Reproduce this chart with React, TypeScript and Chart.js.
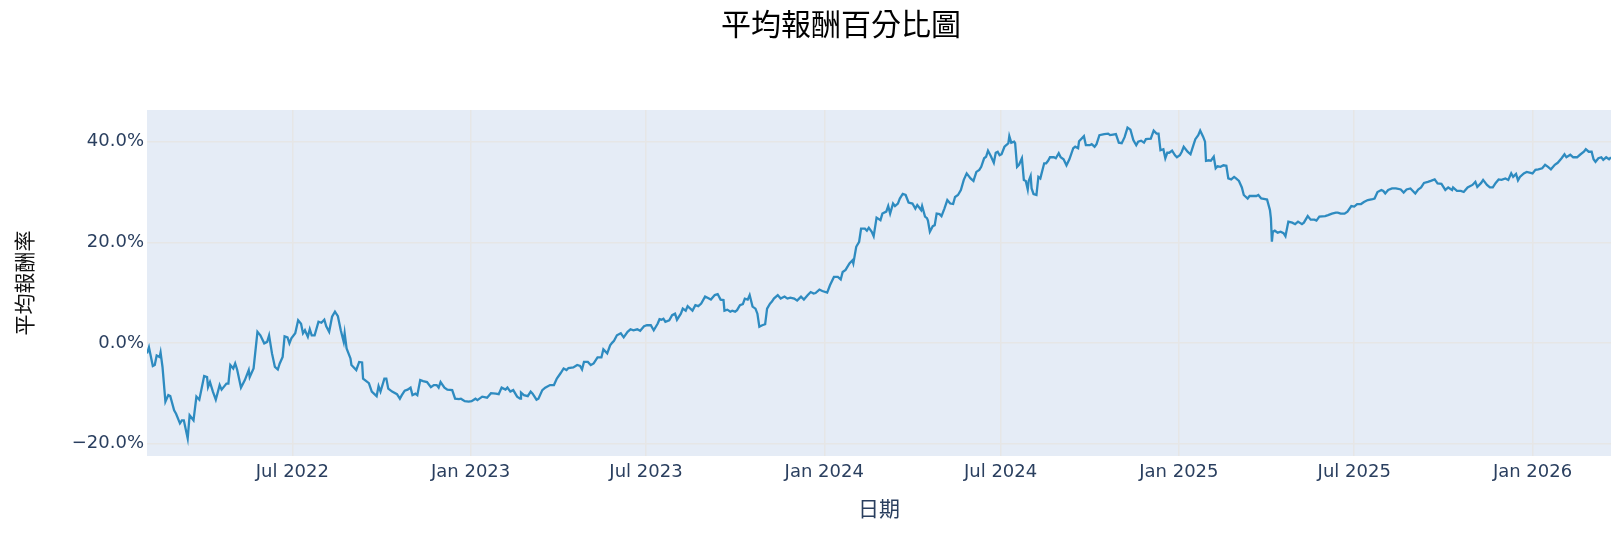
import React, { useEffect, useRef } from 'react';
import { Chart, registerables } from 'chart.js';

Chart.register(...registerables);

const chartTitle = '平均報酬百分比圖';
const xTitle = '日期';
const yTitle = '平均報酬率';

// average return (%), split by year
const dates2022 = [
  '2022-02-01', '2022-02-03', '2022-02-07', '2022-02-09', '2022-02-11', '2022-02-14', '2022-02-15', '2022-02-17',
  '2022-02-20', '2022-02-23', '2022-02-25', '2022-03-01', '2022-03-03', '2022-03-07', '2022-03-09', '2022-03-11',
  '2022-03-15', '2022-03-17', '2022-03-21', '2022-03-24', '2022-03-27', '2022-04-01', '2022-04-04', '2022-04-05',
  '2022-04-07', '2022-04-10', '2022-04-13', '2022-04-17', '2022-04-19', '2022-04-24', '2022-04-26', '2022-04-28',
  '2022-05-01', '2022-05-03', '2022-05-05', '2022-05-09', '2022-05-13', '2022-05-17', '2022-05-18', '2022-05-22',
  '2022-05-26', '2022-05-29', '2022-06-02', '2022-06-05', '2022-06-07', '2022-06-10', '2022-06-13', '2022-06-16',
  '2022-06-18', '2022-06-21', '2022-06-23', '2022-06-26', '2022-06-28', '2022-06-30', '2022-07-04', '2022-07-07',
  '2022-07-10', '2022-07-12', '2022-07-14', '2022-07-17', '2022-07-19', '2022-07-21', '2022-07-24', '2022-07-28',
  '2022-07-31', '2022-08-03', '2022-08-05', '2022-08-08', '2022-08-11', '2022-08-14', '2022-08-17', '2022-08-20',
  '2022-08-23', '2022-08-24', '2022-08-26', '2022-08-30', '2022-08-31', '2022-09-05', '2022-09-08', '2022-09-11',
  '2022-09-12', '2022-09-18', '2022-09-21', '2022-09-26', '2022-09-28', '2022-09-30', '2022-10-04', '2022-10-06',
  '2022-10-08', '2022-10-12', '2022-10-17', '2022-10-20', '2022-10-22', '2022-10-25', '2022-10-28', '2022-10-31',
  '2022-11-02', '2022-11-05', '2022-11-07', '2022-11-10', '2022-11-13', '2022-11-17', '2022-11-21', '2022-11-24',
  '2022-11-27', '2022-11-29', '2022-12-01', '2022-12-05', '2022-12-08', '2022-12-13', '2022-12-16', '2022-12-20',
  '2022-12-22', '2022-12-26', '2022-12-30',
];
const returns2022 = [
  -2.1, -0.9, -4.6, -4.4, -2.5, -2.8, -1.9, -4.8,
  -11.7, -10.4, -10.6, -13.4, -14.1, -16.0, -15.4, -15.4,
  -19.0, -14.4, -15.4, -10.7, -11.3, -6.6, -6.8, -8.8,
  -7.8, -9.7, -11.3, -8.4, -9.3, -8.1, -8.1, -4.4,
  -5.1, -4.1, -5.3, -8.9, -7.4, -5.4, -6.8, -5.1,
  2.2, 1.5, -0.1, 0.2, 1.5, -2.1, -4.8, -5.3,
  -4.1, -2.8, 1.3, 1.1, -0.1, 0.9, 1.9, 4.5,
  3.8, 1.9, 2.5, 1.2, 2.7, 1.5, 1.5, 4.2,
  4.0, 4.6, 3.3, 2.2, 5.2, 6.2, 5.3, 2.5,
  0.2, 1.9, -1.1, -3.1, -4.4, -5.4, -3.8, -3.9,
  -7.1, -8.0, -9.7, -10.6, -8.6, -9.7, -7.1, -7.1,
  -9.1, -9.7, -10.2, -11.1, -10.4, -9.5, -9.3, -8.9,
  -10.4, -10.1, -10.4, -7.4, -7.6, -7.8, -8.8, -8.4,
  -8.4, -8.9, -7.8, -8.9, -9.3, -9.4, -11.1, -11.2,
  -11.1, -11.6, -11.7,
];

const dates2023 = [
  '2023-01-02', '2023-01-06', '2023-01-08', '2023-01-13', '2023-01-18', '2023-01-22', '2023-01-27', '2023-01-30',
  '2023-02-02', '2023-02-06', '2023-02-08', '2023-02-11', '2023-02-14', '2023-02-18', '2023-02-21', '2023-02-22',
  '2023-02-25', '2023-03-01', '2023-03-04', '2023-03-06', '2023-03-10', '2023-03-12', '2023-03-16', '2023-03-19',
  '2023-03-24', '2023-03-28', '2023-03-31', '2023-04-04', '2023-04-07', '2023-04-10', '2023-04-12', '2023-04-17',
  '2023-04-21', '2023-04-24', '2023-04-26', '2023-04-28', '2023-05-02', '2023-05-05', '2023-05-08', '2023-05-12',
  '2023-05-16', '2023-05-18', '2023-05-22', '2023-05-25', '2023-05-27', '2023-05-29', '2023-06-01', '2023-06-05',
  '2023-06-08', '2023-06-12', '2023-06-15', '2023-06-18', '2023-06-22', '2023-06-25', '2023-06-29', '2023-07-02',
  '2023-07-06', '2023-07-09', '2023-07-13', '2023-07-15', '2023-07-17', '2023-07-19', '2023-07-21', '2023-07-25',
  '2023-07-28', '2023-07-31', '2023-08-02', '2023-08-06', '2023-08-08', '2023-08-11', '2023-08-13', '2023-08-18',
  '2023-08-21', '2023-08-24', '2023-08-27', '2023-08-31', '2023-09-03', '2023-09-06', '2023-09-10', '2023-09-13',
  '2023-09-16', '2023-09-19', '2023-09-20', '2023-09-23', '2023-09-26', '2023-09-28', '2023-10-01', '2023-10-03',
  '2023-10-06', '2023-10-09', '2023-10-11', '2023-10-14', '2023-10-16', '2023-10-19', '2023-10-22', '2023-10-24',
  '2023-10-26', '2023-10-29', '2023-11-01', '2023-11-03', '2023-11-06', '2023-11-08', '2023-11-10', '2023-11-14',
  '2023-11-17', '2023-11-21', '2023-11-24', '2023-11-27', '2023-12-01', '2023-12-04', '2023-12-06', '2023-12-08',
  '2023-12-11', '2023-12-15', '2023-12-18', '2023-12-21', '2023-12-23', '2023-12-27', '2023-12-30',
];
const returns2023 = [
  -11.6, -11.1, -11.4, -10.7, -10.9, -10.0, -10.1, -10.2,
  -8.9, -9.3, -8.9, -9.7, -9.4, -10.7, -11.1, -9.9,
  -10.4, -10.6, -9.7, -10.1, -11.3, -11.1, -9.4, -8.9,
  -8.4, -8.4, -7.1, -6.0, -5.1, -5.4, -5.0, -4.9,
  -4.4, -4.6, -5.3, -3.8, -3.8, -4.4, -4.1, -2.9,
  -2.9, -1.3, -2.1, -0.5, 0.0, 0.4, 1.5, 1.9,
  1.1, 2.2, 2.7, 2.5, 2.7, 2.4, 3.3, 3.5,
  3.5, 2.5, 3.8, 4.7, 4.6, 4.8, 4.2, 4.5,
  5.5, 5.8, 4.6, 5.8, 6.8, 6.4, 7.3, 6.4,
  7.5, 7.3, 7.8, 9.2, 8.9, 8.6, 9.5, 9.7,
  8.6, 8.5, 6.4, 6.6, 6.2, 6.4, 6.2, 6.5,
  7.5, 7.7, 8.8, 8.6, 9.5, 7.2, 6.8, 5.8,
  3.2, 3.5, 3.7, 6.8, 7.8, 8.2, 8.8, 9.5,
  8.8, 9.2, 8.8, 9.0, 8.8, 8.4, 8.8, 9.2,
  8.6, 9.5, 10.1, 9.8, 9.9, 10.6, 10.3,
];

const dates2024 = [
  '2024-01-04', '2024-01-07', '2024-01-11', '2024-01-15', '2024-01-18', '2024-01-20', '2024-01-23', '2024-01-27',
  '2024-01-30', '2024-01-31', '2024-02-03', '2024-02-06', '2024-02-08', '2024-02-12', '2024-02-14', '2024-02-16',
  '2024-02-19', '2024-02-21', '2024-02-24', '2024-02-28', '2024-03-01', '2024-03-05', '2024-03-07', '2024-03-09',
  '2024-03-12', '2024-03-14', '2024-03-17', '2024-03-19', '2024-03-22', '2024-03-25', '2024-03-28', '2024-04-01',
  '2024-04-04', '2024-04-06', '2024-04-08', '2024-04-10', '2024-04-11', '2024-04-14', '2024-04-16', '2024-04-17',
  '2024-04-19', '2024-04-22', '2024-04-24', '2024-04-26', '2024-04-29', '2024-05-01', '2024-05-04', '2024-05-07',
  '2024-05-10', '2024-05-13', '2024-05-15', '2024-05-18', '2024-05-21', '2024-05-24', '2024-05-27', '2024-05-31',
  '2024-06-03', '2024-06-06', '2024-06-09', '2024-06-11', '2024-06-14', '2024-06-16', '2024-06-18', '2024-06-21',
  '2024-06-24', '2024-06-26', '2024-06-28', '2024-06-30', '2024-07-02', '2024-07-05', '2024-07-08', '2024-07-09',
  '2024-07-10', '2024-07-12', '2024-07-15', '2024-07-16', '2024-07-18', '2024-07-20', '2024-07-23', '2024-07-25',
  '2024-07-27', '2024-07-29', '2024-07-30', '2024-08-01', '2024-08-02', '2024-08-04', '2024-08-07', '2024-08-09',
  '2024-08-11', '2024-08-15', '2024-08-17', '2024-08-19', '2024-08-21', '2024-08-25', '2024-08-27', '2024-08-30',
  '2024-09-01', '2024-09-04', '2024-09-07', '2024-09-10', '2024-09-14', '2024-09-16', '2024-09-19', '2024-09-20',
  '2024-09-25', '2024-09-27', '2024-10-01', '2024-10-03', '2024-10-06', '2024-10-08', '2024-10-11', '2024-10-16',
  '2024-10-20', '2024-10-22', '2024-10-25', '2024-10-28', '2024-10-31', '2024-11-03', '2024-11-06', '2024-11-09',
  '2024-11-12', '2024-11-15', '2024-11-18', '2024-11-20', '2024-11-23', '2024-11-26', '2024-11-28', '2024-12-03',
  '2024-12-06', '2024-12-09', '2024-12-11', '2024-12-13', '2024-12-16', '2024-12-18', '2024-12-20', '2024-12-22',
  '2024-12-25', '2024-12-28', '2024-12-30',
];
const returns2024 = [
  10.0, 11.5, 13.1, 13.1, 12.6, 14.1, 14.5, 15.8,
  16.4, 15.8, 19.1, 20.1, 22.7, 22.7, 22.3, 22.9,
  22.1, 21.2, 24.9, 24.4, 25.7, 26.1, 27.2, 25.7,
  27.7, 27.2, 27.7, 28.7, 29.6, 29.4, 27.9, 27.7,
  26.7, 27.4, 26.9, 26.4, 27.2, 25.1, 24.8, 24.3,
  22.1, 23.2, 23.4, 25.7, 25.6, 25.2, 26.7, 28.4,
  27.7, 27.6, 29.0, 29.4, 30.4, 32.4, 33.7, 32.7,
  32.2, 34.0, 34.4, 35.0, 36.7, 37.0, 38.2, 37.1,
  35.8, 37.8, 38.0, 37.3, 37.5, 39.0, 39.5, 39.7,
  41.1, 39.8, 40.0, 39.7, 35.0, 35.4, 36.7, 32.4,
  32.2, 30.5, 32.2, 33.2, 30.7, 29.6, 29.4, 33.0,
  32.7, 35.7, 35.7, 36.2, 36.9, 36.9, 36.7, 37.7,
  36.9, 36.5, 35.3, 36.5, 38.7, 39.0, 38.7, 40.1,
  41.1, 39.3, 39.3, 39.5, 39.0, 39.5, 41.3, 41.5,
  41.6, 41.3, 41.4, 41.5, 39.8, 39.7, 40.9, 42.8,
  42.4, 40.3, 39.3, 40.0, 40.2, 39.8, 40.5, 40.6,
  42.2, 41.6, 41.6, 38.3, 38.5, 36.7, 37.8, 37.8,
  38.2, 37.3, 36.9,
];

const dates2025 = [
  '2025-01-02', '2025-01-04', '2025-01-06', '2025-01-10', '2025-01-13', '2025-01-16', '2025-01-18', '2025-01-21',
  '2025-01-23', '2025-01-26', '2025-01-28', '2025-01-29', '2025-02-01', '2025-02-03', '2025-02-06', '2025-02-08',
  '2025-02-10', '2025-02-13', '2025-02-16', '2025-02-19', '2025-02-21', '2025-02-24', '2025-02-27', '2025-03-01',
  '2025-03-04', '2025-03-07', '2025-03-09', '2025-03-13', '2025-03-15', '2025-03-19', '2025-03-22', '2025-03-24',
  '2025-03-27', '2025-03-31', '2025-04-02', '2025-04-05', '2025-04-06', '2025-04-07', '2025-04-08', '2025-04-10',
  '2025-04-13', '2025-04-16', '2025-04-19', '2025-04-21', '2025-04-24', '2025-04-28', '2025-05-01', '2025-05-04',
  '2025-05-08', '2025-05-10', '2025-05-14', '2025-05-17', '2025-05-21', '2025-05-23', '2025-05-26', '2025-06-01',
  '2025-06-04', '2025-06-08', '2025-06-12', '2025-06-14', '2025-06-17', '2025-06-21', '2025-06-24', '2025-06-28',
  '2025-07-01', '2025-07-04', '2025-07-08', '2025-07-11', '2025-07-15', '2025-07-20', '2025-07-22', '2025-07-25',
  '2025-07-29', '2025-07-31', '2025-08-02', '2025-08-05', '2025-08-09', '2025-08-13', '2025-08-18', '2025-08-21',
  '2025-08-24', '2025-08-28', '2025-08-30', '2025-09-02', '2025-09-05', '2025-09-08', '2025-09-11', '2025-09-15',
  '2025-09-18', '2025-09-22', '2025-09-25', '2025-09-29', '2025-10-03', '2025-10-06', '2025-10-10', '2025-10-11',
  '2025-10-15', '2025-10-19', '2025-10-22', '2025-10-26', '2025-10-31', '2025-11-03', '2025-11-05', '2025-11-09',
  '2025-11-11', '2025-11-15', '2025-11-18', '2025-11-21', '2025-11-24', '2025-11-27', '2025-11-30', '2025-12-04',
  '2025-12-07', '2025-12-10', '2025-12-12', '2025-12-15', '2025-12-17', '2025-12-19', '2025-12-23', '2025-12-26',
  '2025-12-30',
];
const returns2025 = [
  37.3, 38.0, 39.0, 38.0, 37.5, 39.3, 40.5, 41.3,
  42.2, 41.0, 40.0, 36.2, 36.3, 36.2, 37.0, 34.7,
  35.1, 35.0, 35.3, 35.2, 32.7, 32.5, 33.0, 32.7,
  32.2, 30.9, 29.4, 28.7, 29.2, 29.2, 29.2, 29.4,
  28.7, 28.6, 28.5, 26.4, 24.7, 20.1, 22.1, 22.3,
  21.9, 22.1, 21.8, 21.2, 24.1, 23.9, 23.6, 24.1,
  23.6, 23.9, 25.2, 24.5, 24.5, 24.3, 25.1, 25.2,
  25.4, 25.7, 25.9, 25.9, 25.7, 25.7, 26.1, 27.2,
  27.1, 27.6, 27.6, 28.0, 28.4, 28.6, 28.7, 30.0,
  30.4, 30.2, 29.7, 30.4, 30.7, 30.7, 30.5, 29.9,
  30.5, 30.7, 30.3, 29.7, 30.5, 30.9, 31.8, 32.0,
  32.2, 32.5, 31.7, 31.6, 30.4, 30.9, 30.4, 30.9,
  30.2, 30.2, 30.0, 30.9, 31.4, 32.0, 31.0, 31.8,
  32.4, 31.4, 30.9, 30.9, 31.8, 32.5, 32.4, 32.7,
  32.4, 33.7, 33.0, 33.6, 32.3, 33.0, 33.7, 34.0,
  33.8,
];

const dates2026 = [
  '2026-01-01', '2026-01-04', '2026-01-07', '2026-01-11', '2026-01-14', '2026-01-17', '2026-01-20', '2026-01-24',
  '2026-01-27', '2026-01-31', '2026-02-03', '2026-02-05', '2026-02-09', '2026-02-12', '2026-02-16', '2026-02-19',
  '2026-02-23', '2026-02-25', '2026-02-28', '2026-03-03', '2026-03-05', '2026-03-07', '2026-03-10', '2026-03-13',
  '2026-03-15', '2026-03-18', '2026-03-21', '2026-03-23',
];
const returns2026 = [
  33.7, 34.4, 34.5, 34.7, 35.4, 35.0, 34.5, 35.4,
  35.8, 36.7, 37.5, 36.9, 37.4, 36.9, 36.9, 37.4,
  38.0, 38.5, 38.0, 38.0, 36.5, 36.0, 36.7, 36.9,
  36.4, 36.9, 36.5, 36.9,
];

const xTickDates = ['2022-07-01', '2023-01-01', '2023-07-01', '2024-01-01', '2024-07-01', '2025-01-01', '2025-07-01', '2026-01-01'];
const yTickValues = [-20, 0, 20, 40];
const monthNames = ['Jan', 'Feb', 'Mar', 'Apr', 'May', 'Jun', 'Jul', 'Aug', 'Sep', 'Oct', 'Nov', 'Dec'];

const allDates = [...dates2022, ...dates2023, ...dates2024, ...dates2025, ...dates2026];
const allReturns = [...returns2022, ...returns2023, ...returns2024, ...returns2025, ...returns2026];

const DAY = 86400000;
const toDay = (s: string) => Date.UTC(+s.slice(0, 4), +s.slice(5, 7) - 1, +s.slice(8, 10)) / DAY;

const FONT = '"DejaVu Sans", "Noto Sans CJK TC", sans-serif';
const AXIS_COLOR = '#2a3f5f';
const GRID_COLOR = '#e6e6e6';

const plotBackground = {
  id: 'plotBackground',
  beforeDraw(chart: any) {
    const { ctx, chartArea } = chart;
    ctx.save();
    ctx.fillStyle = '#e5ecf6';
    ctx.fillRect(chartArea.left, chartArea.top, chartArea.right - chartArea.left, chartArea.bottom - chartArea.top);
    ctx.restore();
  },
};

const plotTitle = {
  id: 'plotTitle',
  afterDraw(chart: any) {
    const { ctx } = chart;
    ctx.save();
    ctx.font = `30px ${FONT}`;
    ctx.fillStyle = '#000';
    ctx.textAlign = 'center';
    ctx.textBaseline = 'middle';
    ctx.fillText(chartTitle, 841, 27);
    ctx.restore();
  },
};

const App: React.FC = () => {
  const canvasRef = useRef<HTMLCanvasElement>(null);

  useEffect(() => {
    if (!canvasRef.current) return;
    const points = allDates.map((d, i) => ({ x: toDay(d), y: allReturns[i] }));

    const chart = new Chart(canvasRef.current, {
      type: 'line',
      data: {
        datasets: [
          {
            data: points,
            borderColor: '#2e8bc0',
            borderWidth: 2.3,
            pointRadius: 0,
            tension: 0,
          },
        ],
      },
      options: {
        animation: false,
        responsive: true,
        maintainAspectRatio: false,
        layout: { padding: { top: 110, right: 9, bottom: 0, left: 0 } },
        plugins: {
          legend: { display: false },
          tooltip: { enabled: false },
        },
        scales: {
          x: {
            type: 'linear',
            min: toDay(allDates[0]),
            max: toDay(allDates[allDates.length - 1]),
            afterBuildTicks: (scale: any) => {
              scale.ticks = xTickDates.map((d) => ({ value: toDay(d) }));
            },
            afterFit: (scale: any) => {
              scale.height = 77;
            },
            grid: { color: GRID_COLOR, lineWidth: 1.5, drawTicks: false },
            border: { display: false },
            ticks: {
              autoSkip: false,
              maxRotation: 0,
              padding: 6,
              color: AXIS_COLOR,
              font: { family: FONT, size: 18 },
              callback: (v: any) => {
                const dt = new Date(Number(v) * DAY);
                return `${monthNames[dt.getUTCMonth()]} ${dt.getUTCFullYear()}`;
              },
            },
            title: {
              display: true,
              text: xTitle,
              color: AXIS_COLOR,
              font: { family: FONT, size: 21 },
              padding: { top: 0, bottom: 10 },
            },
          },
          y: {
            min: -22.5,
            max: 46.3,
            afterBuildTicks: (scale: any) => {
              scale.ticks = yTickValues.map((v) => ({ value: v }));
            },
            afterFit: (scale: any) => {
              scale.width = 147;
            },
            grid: { color: GRID_COLOR, lineWidth: 1.5, drawTicks: false },
            border: { display: false },
            ticks: {
              padding: 3,
              color: AXIS_COLOR,
              font: { family: FONT, size: 18 },
              callback: (v: any) => `${Number(v) < 0 ? '\u2212' : ''}${Math.abs(Number(v)).toFixed(1)}%`,
            },
            title: {
              display: true,
              text: yTitle,
              color: '#111',
              font: { family: FONT, size: 21 },
              padding: { top: 14, bottom: 0 },
            },
          },
        },
      },
      plugins: [plotBackground, plotTitle],
    });

    return () => {
      chart.destroy();
    };
  }, []);

  return (
    <div style={{ position: 'absolute', left: 0, top: 0, width: 1620, height: 533, background: '#fff' }}>
      <canvas ref={canvasRef} />
    </div>
  );
};

export default App;
